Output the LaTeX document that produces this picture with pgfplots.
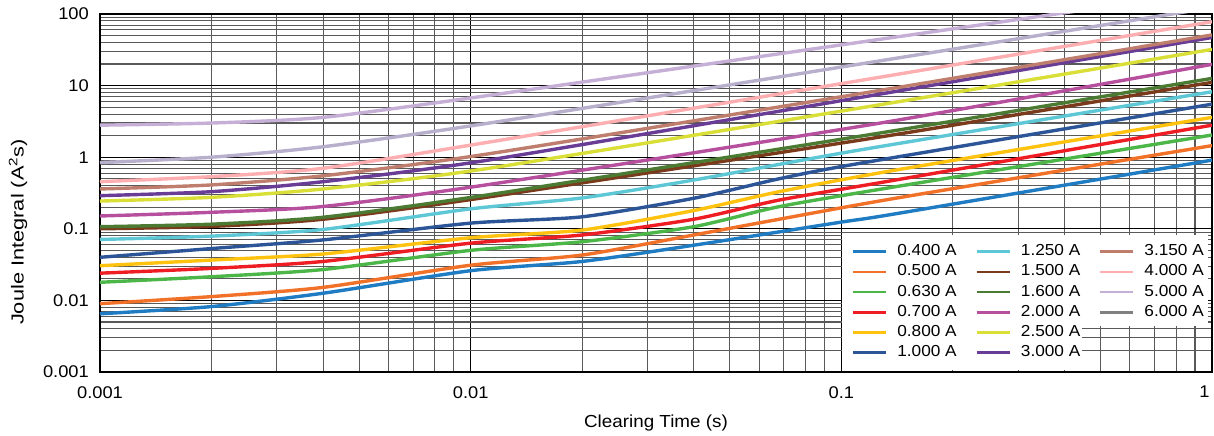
\documentclass[border=0pt]{standalone}
\usepackage{pgfplots}
\pgfplotsset{compat=1.18}
\usepackage{fontspec}
\setmainfont{Liberation Sans}[FakeStretch=1.08]
\newfontfamily\ylabfont{Liberation Sans}[FakeStretch=1.25]
\definecolor{c0400}{HTML}{1F7BC2}
\definecolor{c0500}{HTML}{F17128}
\definecolor{c0630}{HTML}{4CB748}
\definecolor{c0700}{HTML}{EE1D24}
\definecolor{c0800}{HTML}{FEC20F}
\definecolor{c1000}{HTML}{2C5597}
\definecolor{c1250}{HTML}{5DC7D5}
\definecolor{c1500}{HTML}{7A3B1C}
\definecolor{c1600}{HTML}{4B7B33}
\definecolor{c2000}{HTML}{B64F9E}
\definecolor{c2500}{HTML}{DADF38}
\definecolor{c3000}{HTML}{693C96}
\definecolor{c3150}{HTML}{BF7E6D}
\definecolor{c4000}{HTML}{FCAEB0}
\definecolor{c5000}{HTML}{C6AFD6}
\definecolor{c6000}{HTML}{808080}
\definecolor{c6000line}{HTML}{B7AFCC}
\begin{document}
\begin{tikzpicture}
\useasboundingbox (-100bp,-64bp) rectangle (1114bp,372bp);
\begin{axis}[
  scale only axis, width=1112bp, height=358bp,
  xmode=log, ymode=log,
  xmin=0.001, xmax=1, ymin=0.001, ymax=100,
  grid=both,
  major grid style={black, line width=1.1bp},
  minor grid style={black!65, line width=1.1bp},
  axis line style={black, line width=2.6bp},
  major tick style={draw=none}, minor tick style={draw=none},
  xtick={0.001,0.01,0.1,1}, xticklabels={0.001,0.01,0.1,\makebox[0pt][r]{1\hspace{2.5bp}}},
  ytick={0.001,0.01,0.1,1,10,100}, yticklabels={0.001,0.01,0.1,1,10,100},
  xticklabel style={font=\fontsize{17}{20}\selectfont, anchor=north, inner sep=0pt, yshift=-14bp},
  yticklabel style={font=\fontsize{17}{20}\selectfont, anchor=east, inner sep=0pt, xshift=-11bp},
  xlabel={Clearing Time (s)},
  ylabel={Joule Integral (A\textsuperscript{2}s)},
  xlabel style={font=\fontsize{17.5}{20}\selectfont, at={(axis description cs:0.5,0)}, anchor=center, yshift=-51bp},
  ylabel style={font=\ylabfont\fontsize{17.5}{20}\selectfont, at={(axis description cs:0,0.391)}, anchor=center, yshift=82bp},
  every axis plot/.append style={line width=3.4bp, smooth, tension=0.4, no markers},
  legend columns=3,
  legend image code/.code={\draw[#1] (0bp,0bp) -- (33bp,0bp);},
  legend cell align=left,
  legend style={draw=none, fill=none, at={(rel axis cs:0.676,0.3556)}, anchor=north west,
    inner sep=0pt, outer sep=0pt, row sep=6.2bp,
    font=\fontsize{16}{18}\selectfont,
    nodes={inner sep=0pt, text height=11bp, text depth=3bp},
    /tikz/every odd column/.append style={column sep=10bp},
    /tikz/every even column/.append style={column sep=18.5bp}},
]
\fill[white] (rel axis cs:0.6673,0.1285) rectangle (rel axis cs:0.9964,0.3827);
\fill[white] (rel axis cs:0.6673,0.006) rectangle (rel axis cs:0.8831,0.13);

\addplot[c0400, forget plot] coordinates {(0.001,0.0065) (0.002,0.0082) (0.004,0.0126) (0.01,0.026) (0.02,0.035) (0.04,0.059) (0.1,0.124) (0.14,0.162) (1,0.91)};
\addplot[c0500, forget plot] coordinates {(0.001,0.009) (0.002,0.0113) (0.004,0.0152) (0.01,0.031) (0.02,0.043) (0.04,0.082) (0.068,0.136) (0.14,0.267) (1,1.45)};
\addplot[c0630, forget plot] coordinates {(0.001,0.0179) (0.002,0.0214) (0.004,0.027) (0.01,0.05) (0.02,0.066) (0.04,0.107) (0.068,0.204) (0.14,0.387) (1,2.04)};
\addplot[c0700, forget plot] coordinates {(0.001,0.024) (0.002,0.028) (0.004,0.035) (0.01,0.063) (0.02,0.082) (0.04,0.136) (0.068,0.252) (0.14,0.48) (1,2.8)};
\addplot[c0800, forget plot] coordinates {(0.001,0.0305) (0.002,0.0366) (0.004,0.0445) (0.01,0.075) (0.02,0.096) (0.04,0.18) (0.068,0.33) (0.14,0.66) (1,3.6)};
\addplot[c1000, forget plot] coordinates {(0.001,0.040) (0.002,0.053) (0.004,0.070) (0.01,0.12) (0.02,0.147) (0.04,0.267) (0.068,0.50) (0.112,0.82) (1,5.5)};
\addplot[c1250, forget plot] coordinates {(0.001,0.071) (0.002,0.079) (0.004,0.098) (0.01,0.19) (0.02,0.27) (0.04,0.48) (0.112,1.26) (1,8.2)};
\addplot[c1500, forget plot] coordinates {(0.001,0.100) (0.002,0.108) (0.004,0.136) (0.011,0.275) (0.126,1.9) (1,11.1)};
\addplot[c1600, forget plot] coordinates {(0.001,0.107) (0.002,0.116) (0.004,0.145) (0.011,0.295) (0.126,2.16) (1,12.6)};
\addplot[c2000, forget plot] coordinates {(0.001,0.151) (0.002,0.17) (0.004,0.205) (0.011,0.41) (0.126,2.97) (1,19.8)};
\addplot[c2500, forget plot] coordinates {(0.001,0.244) (0.002,0.275) (0.004,0.36) (0.011,0.69) (0.126,5.36) (1,32)};
\addplot[c3000, forget plot] coordinates {(0.001,0.29) (0.002,0.33) (0.004,0.455) (0.011,0.90) (0.126,7.55) (1,47)};
\addplot[c3150, forget plot] coordinates {(0.001,0.36) (0.002,0.41) (0.004,0.55) (0.011,1.1) (0.126,8.5) (1,51)};
\addplot[c4000, forget plot] coordinates {(0.001,0.455) (0.002,0.535) (0.004,0.70) (0.011,1.6) (0.126,13) (1,78)};
\addplot[c6000line, forget plot] coordinates {(0.001,0.84) (0.002,1.0) (0.004,1.4) (0.011,2.95) (0.126,22) (0.78,100) (1,123)};
\addplot[c5000, forget plot] coordinates {(0.001,2.8) (0.002,3.0) (0.004,3.6) (0.011,7.2) (0.126,44) (0.38,100) (1,205)};

\addlegendimage{c0400, line width=2.7bp}\addlegendentry{0.400 A}
\addlegendimage{c1250, line width=2.7bp}\addlegendentry{1.250 A}
\addlegendimage{c3150, line width=2.7bp}\addlegendentry{3.150 A}
\addlegendimage{c0500, line width=2.7bp}\addlegendentry{0.500 A}
\addlegendimage{c1500, line width=2.7bp}\addlegendentry{1.500 A}
\addlegendimage{c4000, line width=2.7bp}\addlegendentry{4.000 A}
\addlegendimage{c0630, line width=2.7bp}\addlegendentry{0.630 A}
\addlegendimage{c1600, line width=2.7bp}\addlegendentry{1.600 A}
\addlegendimage{c5000, line width=2.7bp}\addlegendentry{5.000 A}
\addlegendimage{c0700, line width=2.7bp}\addlegendentry{0.700 A}
\addlegendimage{c2000, line width=2.7bp}\addlegendentry{2.000 A}
\addlegendimage{c6000, line width=2.7bp}\addlegendentry{6.000 A}
\addlegendimage{c0800, line width=2.7bp}\addlegendentry{0.800 A}
\addlegendimage{c2500, line width=2.7bp}\addlegendentry{2.500 A}
\addlegendimage{empty legend}\addlegendentry{}
\addlegendimage{c1000, line width=2.7bp}\addlegendentry{1.000 A}
\addlegendimage{c3000, line width=2.7bp}\addlegendentry{3.000 A}
\addlegendimage{empty legend}\addlegendentry{}
\end{axis}
\end{tikzpicture}
\end{document}
